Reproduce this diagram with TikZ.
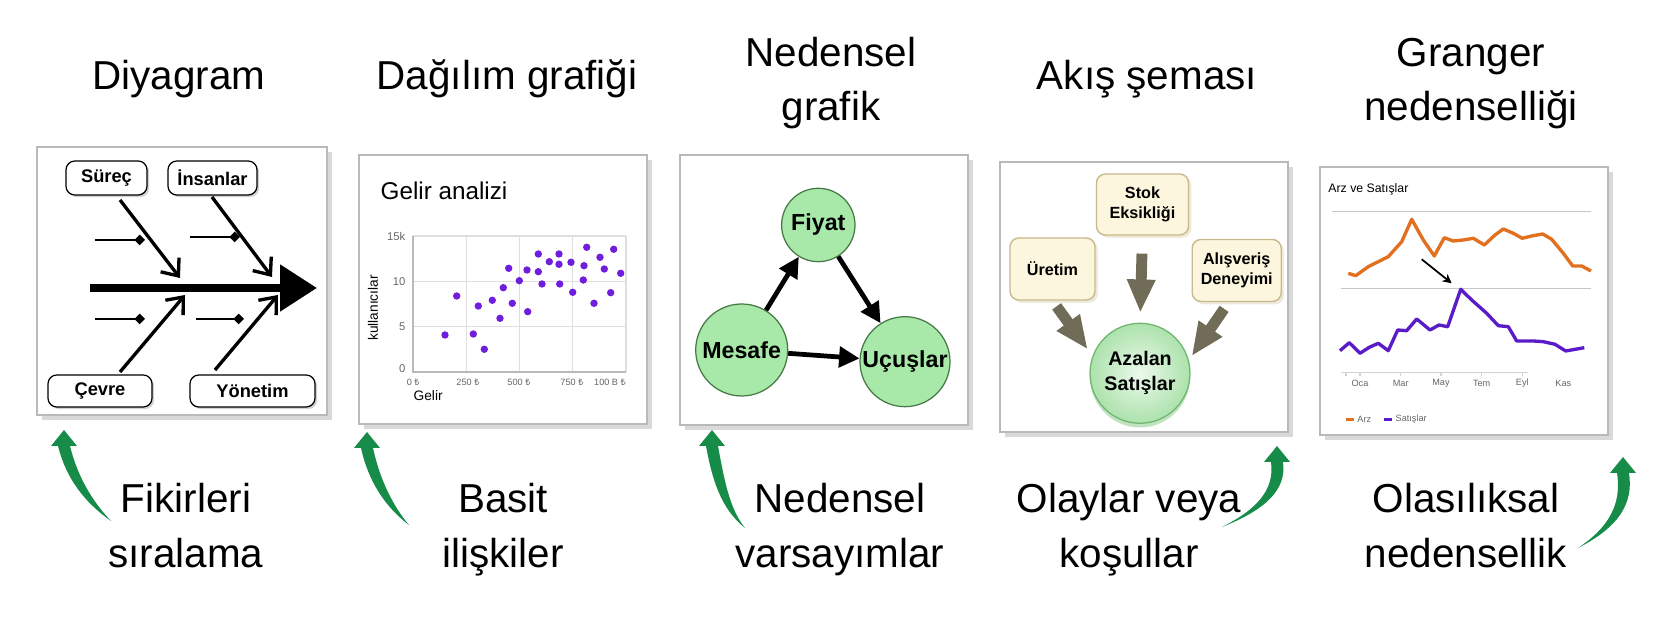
\documentclass[tikz,border=0pt]{standalone}
\usepackage{fontspec}
\setmainfont{Liberation Sans}
\newfontfamily\lirafont{Noto Sans}
\usetikzlibrary{arrows.meta,shadows,calc}

\definecolor{boxcream}{RGB}{252,246,222}
\definecolor{boxtan}{RGB}{200,186,140}
\definecolor{nodegreen}{RGB}{168,232,168}
\definecolor{edgegreen}{RGB}{70,120,70}
\definecolor{arrowgreen}{RGB}{22,140,72}
\definecolor{dotpurple}{RGB}{110,30,220}
\definecolor{linepurple}{RGB}{90,28,200}
\definecolor{lineorange}{RGB}{226,112,30}
\definecolor{blockgray}{RGB}{112,108,88}

\newcommand{\lira}{{\lirafont ₺}}
% tail, first control, second control, head base
\newcommand{\bentarrow}[4]{%
  \fill[arrowgreen] (#1) .. controls (#2) and (#3) .. ($(#4)+(-6,0)$)
    -- ($(#4)+(-13,0)$) -- ($(#4)+(0,-16)$) -- ($(#4)+(13,0)$) -- ($(#4)+(6,0)$)
    .. controls ($(#3)+(12,0)$) and ($(#2)+(9,0)$) .. (#1) -- cycle;}

\begin{document}
\begin{tikzpicture}[x=0.1mm, y=-0.1mm,
  heading/.style={anchor=base, inner sep=0pt, font=\fontsize{11.5}{14}\selectfont},
  panel/.style={draw=gray!55, line width=0.4pt, fill=white, inner sep=0pt, outer sep=0pt,
    drop shadow={shadow xshift=1.3pt, shadow yshift=-1.3pt, opacity=0.3, fill=gray}},
  fishbox/.style={draw, rounded corners=2.5pt, line width=0.35pt, fill=white, inner sep=0pt,
    font=\fontsize{5.2}{6}\selectfont\bfseries,
    drop shadow={shadow xshift=0.6pt, shadow yshift=-0.6pt, opacity=0.35}},
  bone/.style={line width=0.95pt, -{Straight Barb[length=4pt,width=6.6pt]}},
  twig/.style={line width=0.55pt, -{Diamond[length=3pt,width=3pt]}},
  gridline/.style={gray!25, line width=0.3pt},
  small/.style={inner sep=0pt, text=gray!80!black, font=\fontsize{2.6}{3}\selectfont},
  causal/.style={circle, draw=edgegreen, line width=0.35pt, fill=nodegreen, inner sep=0pt,
    font=\fontsize{6.6}{8}\selectfont\bfseries},
  causalarrow/.style={line width=1.35pt, -{Triangle[length=5.8pt,width=5.8pt]}},
  flowbox/.style={draw=boxtan, fill=boxcream, rounded corners=2.5pt, line width=0.4pt,
    align=center, inner sep=0pt, font=\fontsize{4.6}{5.7}\selectfont\bfseries,
    drop shadow={shadow xshift=0.8pt, shadow yshift=-0.8pt, opacity=0.3, fill=boxtan}},
  blockarrow/.style={blockgray, line width=3.1pt, -{Triangle[length=9.5pt,width=7.5pt]}}]
\useasboundingbox (0,0) rectangle (1680,624);

% headings
\node[heading] (t1) at (179,90) {Diyagram};
\node[heading] (t2) at (507,90) {Dağılım grafiği};
\node[heading] (t3a) at (831,66.5) {Nedensel};
\node[heading] (t3b) at (831,121) {grafik};
\node[heading] (t4) at (1147,90) {Akış şeması};
\node[heading] (t5a) at (1471,66.5) {Granger};
\node[heading] (t5b) at (1471,121) {nedenselliği};

% panels
\node[panel, minimum width=29mm, minimum height=26.8mm] (fishpanel) at (182,281) {};
\node[panel, minimum width=28.8mm, minimum height=26.9mm] (scatterpanel) at (503,289.5) {};
\node[panel, minimum width=28.8mm, minimum height=27mm] (graphpanel) at (824,290) {};
\node[panel, minimum width=28.8mm, minimum height=27mm] (flowpanel) at (1144,297) {};
\node[panel, minimum width=28.8mm, minimum height=26.8mm] (grangerpanel) at (1464,301) {};

% fishbone
\node[fishbox, minimum width=8.1mm, minimum height=3.4mm] (surec) at (106.5,178) {Süreç};
\node[fishbox, minimum width=8.9mm, minimum height=3.4mm] (insan) at (212.5,178) {İnsanlar};
\node[fishbox, minimum width=10.4mm, minimum height=3.2mm] (cevre) at (100,391) {Çevre};
\node[fishbox, minimum width=12.5mm, minimum height=3.2mm] (yonetim) at (252.5,391) {Yönetim};
\coordinate (tail) at (90,288);
\coordinate (head) at (317,288);
\draw[line width=2.3pt, -{Triangle[length=10.5pt,width=12.8pt]}] (tail) -- (head);
\coordinate (b1) at (120,200); \coordinate (b1e) at (180,278);
\coordinate (b2) at (212,197); \coordinate (b2e) at (272,277);
\coordinate (b3) at (120,372); \coordinate (b3e) at (185,295);
\coordinate (b4) at (215,370); \coordinate (b4e) at (278,295);
\draw[bone] (b1) -- (b1e);
\draw[bone] (b2) -- (b2e);
\draw[bone] (b3) -- (b3e);
\draw[bone] (b4) -- (b4e);
\foreach \tx/\ty/\tw in {95/240/145, 190/237/240, 95/319/145, 196/319/244}
  \draw[twig] (\tx,\ty) -- (\tw,\ty);

% scatter plot
\node[anchor=base west, inner sep=0pt, font=\fontsize{6.9}{8}\selectfont] (sctitle) at (380,200) {Gelir analizi};
\foreach \gx in {466.25,519.5,572.75,626}
  \draw[gridline] (\gx,236) -- (\gx,372);
\foreach \gy in {236,281.3,326.7}
  \draw[gridline] (413,\gy) -- (626,\gy);
\draw[gray!55, line width=0.35pt] (413,236) -- (413,372) -- (626,372);
\node[small, anchor=east, font=\fontsize{3.2}{4}\selectfont] (y15) at (406,236) {15k};
\node[small, anchor=east, font=\fontsize{3.2}{4}\selectfont] (y10) at (406,281.3) {10};
\node[small, anchor=east, font=\fontsize{3.2}{4}\selectfont] (y5) at (406,326.7) {5};
\node[small, anchor=east, font=\fontsize{3.2}{4}\selectfont] (y0) at (406,369) {0};
\node[small] (x0) at (413.3,382) {0 \lira};
\node[small] (x250) at (468,382) {250 \lira};
\node[small] (x500) at (519,382) {500 \lira};
\node[small] (x750) at (572,382) {750 \lira};
\node[small] (x100) at (610,382) {100 B \lira};
\node[rotate=90, inner sep=0pt, font=\fontsize{3.9}{4.5}\selectfont] (ylab) at (373,308) {kullanıcılar};
\node[anchor=base west, inner sep=0pt, font=\fontsize{3.9}{4.5}\selectfont] (xlab) at (413,401) {Gelir};
\foreach \px/\py in {445/335, 456.7/296, 473.3/334, 478.3/306, 484.3/349.3, 492.3/300.3,
    500/318.3, 503.3/287.7, 508.7/268.3, 512.3/303.3, 519.3/280.7, 527/270, 527.7/311.7,
    538.3/254, 538.3/271.7, 542/284, 549.3/261.7, 559/254, 559/264.3, 559.7/284,
    571/262.3, 572.7/292.3, 586.7/247.3, 584/265.7, 583.3/280, 594/303.3, 600/257.3,
    604.3/269, 610.7/292.7, 613.7/249.3, 620.7/273.3}
  \fill[dotpurple] (\px,\py) circle (0.37mm);

% causal graph
\node[causal, minimum size=7.34mm] (fiyat) at (818.3,225) {Fiyat};
\node[causal, minimum size=9.2mm] (mesafe) at (741.7,350) {Mesafe};
\node[causal, minimum size=9mm] (ucuslar) at (905,361.7) {Uçuşlar};
\draw[causalarrow] (mesafe) -- (fiyat);
\draw[causalarrow] (fiyat) -- (ucuslar);
\draw[causalarrow] (mesafe) -- (ucuslar);

% flow chart
\node[flowbox, minimum width=9.2mm, minimum height=6.1mm] (stok) at (1142.5,204.5) {Stok\\Eksikliği};
\node[flowbox, minimum width=8.5mm, minimum height=6.2mm] (uretim) at (1052.5,269) {Üretim};
\node[flowbox, minimum width=8.9mm, minimum height=6.2mm] (alis) at (1236.7,270.5) {Alışveriş\\Deneyimi};
\node[circle, minimum size=10mm, inner sep=0pt, draw={rgb,255:red,110;green,180;blue,110}, line width=0.35pt,
  inner color={rgb,255:red,236;green,249;blue,236}, outer color={rgb,255:red,172;green,226;blue,172},
  align=center, font=\fontsize{5.6}{7.1}\selectfont\bfseries,
  drop shadow={shadow xshift=0pt, shadow yshift=-1.2pt, opacity=0.35, fill=green!40!gray}] (azalan) at (1140,373.3) {Azalan\\Satışlar};
\draw[blockarrow, shorten <=2pt, shorten >=2.3pt] (uretim.south) -- (azalan.160);
\draw[blockarrow, shorten <=5.1pt, shorten >=2.8pt] (stok.south) -- (azalan.north);
\draw[blockarrow, shorten <=2.3pt, shorten >=1.4pt] ($(alis.south)+(-8,0)$) -- (azalan.15);

% granger chart
\node[anchor=base west, inner sep=0pt, font=\fontsize{3.5}{4}\selectfont] (grtitle) at (1327.7,192.5) {Arz ve Satışlar};
\draw[gray!45, line width=0.3pt] (1332.3,211.7) -- (1591,211.7);
\draw[gray!45, line width=0.3pt] (1341,288.3) -- (1591,288.3);
\draw[gray!35, line width=0.3pt] (1341,372.7) -- (1527.7,372.7);
\foreach \mx in {1346,1360,1400.7,1441,1481.7,1522.3}
  \draw[gray!35, line width=0.3pt] (\mx,372.7) -- (\mx,376);
\draw[lineorange, line width=0.95pt, line join=round]
  (1348.3,273.3) -- (1355.7,275.7) -- (1368.3,266.7) -- (1388.3,256.7) -- (1401.7,241.7)
  -- (1411.7,219.3) -- (1423.3,240) -- (1434.3,256) -- (1444.3,237.7) -- (1453.3,241)
  -- (1463.3,240) -- (1473.3,238.3) -- (1484.3,245) -- (1495,235) -- (1503.3,229)
  -- (1513.3,233.3) -- (1522.3,238.3) -- (1531.7,236) -- (1542.7,234) -- (1551.7,239.3)
  -- (1563.3,253.3) -- (1572.7,266) -- (1581.7,266) -- (1591,271);
\draw[linepurple, line width=0.95pt, line join=round]
  (1340,350.7) -- (1349.3,342.7) -- (1360,353.3) -- (1369.3,347.3) -- (1378.3,343.3)
  -- (1388.3,350.7) -- (1397.7,330) -- (1406.7,330.7) -- (1416.7,319) -- (1430,330)
  -- (1439,325) -- (1447.7,326.7) -- (1460.7,289.3) -- (1471.7,300) -- (1486.7,313.3)
  -- (1498.3,325.7) -- (1508.3,326.7) -- (1516.7,341) -- (1533.3,341) -- (1543.3,341.7)
  -- (1555,344.3) -- (1565.7,351) -- (1584.3,347.7);
\coordinate (peakfrom) at (1421.7,259.3);
\coordinate (peakto) at (1451.7,283.3);
\draw[line width=0.5pt, -{Stealth[length=2.6pt,width=2.6pt]}] (peakfrom) -- (peakto);
\node[small] (m1) at (1360,383.3) {Oca};
\node[small] (m2) at (1400.7,383.3) {Mar};
\node[small] (m3) at (1441,383.3) {May};
\node[small] (m4) at (1481.7,383.3) {Tem};
\node[small] (m5) at (1522.3,383.3) {Eyl};
\node[small] (m6) at (1563.3,383.3) {Kas};
\draw[lineorange, line width=0.8pt] (1346,419.3) -- (1354.3,419.3);
\node[small, anchor=west] (legarz) at (1356.7,419.3) {Arz};
\draw[linepurple, line width=0.8pt] (1384.3,419.3) -- (1392.3,419.3);
\node[small, anchor=west] (legsat) at (1395,419.3) {Satışlar};

% captions
\node[heading] (c1a) at (186,513) {Fikirleri};
\node[heading] (c1b) at (186,568) {sıralama};
\node[heading] (c2a) at (503,513) {Basit};
\node[heading] (c2b) at (503,568) {ilişkiler};
\node[heading] (c3a) at (840,513) {Nedensel};
\node[heading] (c3b) at (840,568) {varsayımlar};
\node[heading] (c4a) at (1129,513) {Olaylar veya};
\node[heading] (c4b) at (1129,568) {koşullar};
\node[heading] (c5a) at (1466,513) {Olasılıksal};
\node[heading] (c5b) at (1466,568) {nedensellik};

% green arrows
\bentarrow{111,521}{84,502}{66,478}{64,446}
\bentarrow{409,525}{384,506}{368,480}{367,448}
\bentarrow{745,528}{720,508}{712,478}{712,446}
\bentarrow{1222,527}{1256,510}{1275,490}{1277,462}
\bentarrow{1578,548}{1608,528}{1622,505}{1623,473}
\end{tikzpicture}
\end{document}
